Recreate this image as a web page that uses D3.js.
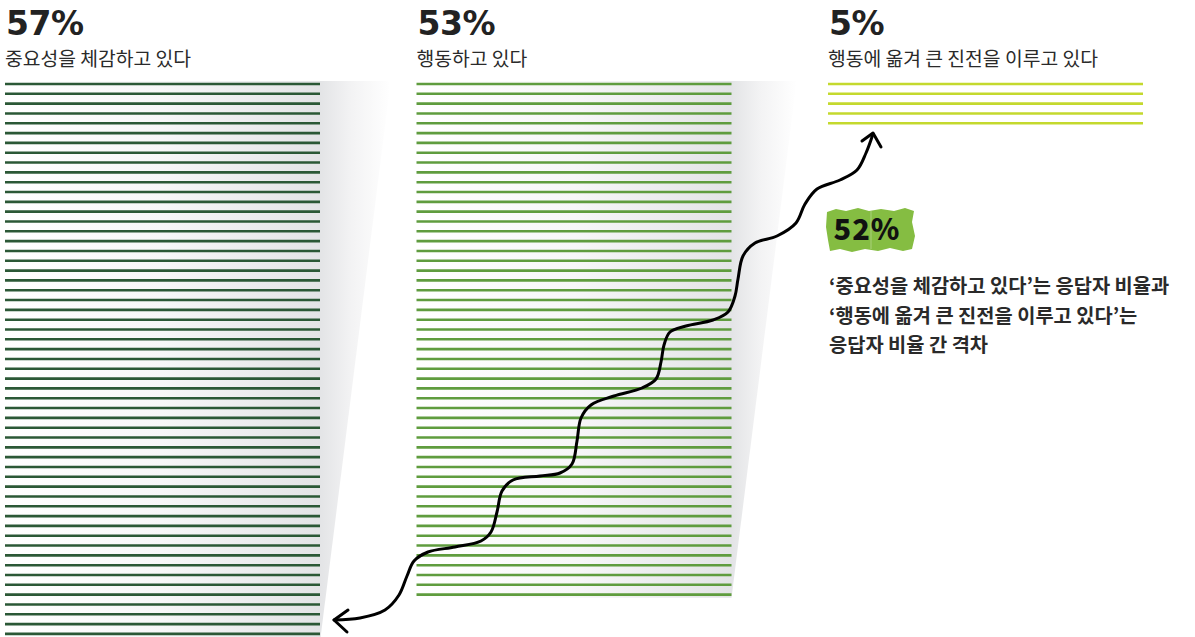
<!DOCTYPE html>
<html>
<head>
<meta charset="utf-8">
<script src="https://cdn.jsdelivr.net/npm/d3@7"></script>
<style>
  html, body { margin: 0; padding: 0; background: #fff; }
  svg { display: block; }
</style>
</head>
<body>
<svg id="chart" width="1195" height="637"></svg>
<script>
// ---- data ----
const categories = ["중요성을 체감하고 있다", "행동하고 있다", "행동에 옮겨 큰 진전을 이루고 있다"];
const percentValues = [57, 53, 5];
const seriesColors = ["#2b5836", "#5f9c3e", "#c4d92e"];
const noteLines = [
  "‘중요성을 체감하고 있다’는 응답자 비율과",
  "‘행동에 옮겨 큰 진전을 이루고 있다’는",
  "응답자 비율 간 격차"
];
// hand-drawn arrow path (annotation decoration)
const arrowPath = [
  [334,620],[360,618],[385,610],[399,595],[407,576],[414,561],[428,552],[455,547],[481,541],
  [491,532],[497,512],[502,491],[513,480],[540,476],[560,473],[572,464],[577,441],[581,418],
  [591,405],[614,396],[642,388],[656,379],[661,362],[664,345],[670,332],[686,326],[713,320],
  [728,312],[735,296],[738,279],[743,256],[755,243],[777,236],[796,223],[805,204],[817,189],
  [840,180],[857,170],[866,153],[873,134]
];

const svg = d3.select("#chart");
const W = 1195, H = 637;
const FONT = "'Noto Sans CJK KR', 'Noto Sans', sans-serif";
const NUMFONT = "'DejaVu Sans', sans-serif";

const x = d3.scaleBand().domain(categories).range([5, 1143]).paddingInner(0.2345).paddingOuter(0);
const lineStep = 9.82;
const y = d3.scaleLinear().domain([0, 57]).range([84, 84 + 57 * lineStep]);

const defs = svg.append("defs");

// shadow panels (first two groups)
categories.forEach((c, gi) => {
  if (gi > 1) return;
  const x0 = x(c), x1 = x(c) + x.bandwidth();
  const n = percentValues[gi];
  const top = y(0) - 3;
  const bottom = gi === 0 ? H + 5 : y(n - 1) + 3;
  const slope = 0.126;
  const topRight = x1 + slope * (bottom - top);
  const id = "shade" + gi;
  const g = defs.append("linearGradient").attr("id", id)
    .attr("gradientUnits", "userSpaceOnUse")
    .attr("x1", x0).attr("x2", topRight).attr("y1", 0).attr("y2", 0);
  const endFrac = (x1 - x0) / (topRight - x0);
  g.append("stop").attr("offset", 0).attr("stop-color", "#ffffff");
  g.append("stop").attr("offset", endFrac * 0.5).attr("stop-color", "#f7f7f8");
  g.append("stop").attr("offset", endFrac).attr("stop-color", "#e3e4e6");
  g.append("stop").attr("offset", endFrac + (1 - endFrac) * 0.45).attr("stop-color", "#f3f3f4");
  g.append("stop").attr("offset", 1).attr("stop-color", "#ffffff");
  svg.append("path")
    .attr("d", `M${x0},${top} L${topRight},${top} L${x1},${bottom} L${x0},${bottom} Z`)
    .attr("fill", `url(#${id})`);
});

// line groups
categories.forEach((c, gi) => {
  const g = svg.append("g");
  const n = percentValues[gi];
  g.selectAll("line").data(d3.range(n)).join("line")
    .attr("x1", x(c)).attr("x2", x(c) + x.bandwidth())
    .attr("y1", d => y(d)).attr("y2", d => y(d))
    .attr("stroke", seriesColors[gi])
    .attr("stroke-width", 2.6);

  svg.append("text")
    .attr("x", x(c) + 1).attr("y", 35)
    .attr("font-family", NUMFONT).attr("font-weight", 700)
    .attr("font-size", 33).attr("fill", "#222")
    .attr("letter-spacing", -0.5)
    .text(n + "%");
  svg.append("text")
    .attr("x", x(c)).attr("y", 66)
    .attr("font-family", FONT).attr("font-weight", 400)
    .attr("font-size", 19.3).attr("fill", "#2a2a2a")
    .text(c);
});

// arrow
const arrowLine = d3.line().curve(d3.curveCatmullRom.alpha(0.5));
svg.append("path").attr("d", arrowLine(arrowPath))
  .attr("fill", "none").attr("stroke", "#000").attr("stroke-width", 3)
  .attr("stroke-linecap", "round");
svg.append("path").attr("d", "M348,610 L334,620 L347,632")
  .attr("fill", "none").attr("stroke", "#000").attr("stroke-width", 3)
  .attr("stroke-linecap", "round").attr("stroke-linejoin", "round");
svg.append("path").attr("d", "M862,141 L873,133 L881,147")
  .attr("fill", "none").attr("stroke", "#000").attr("stroke-width", 3)
  .attr("stroke-linecap", "round").attr("stroke-linejoin", "round");

// badge
svg.append("path")
  .attr("d", "M827,212 L836,209 L846,211 L858,208 L869,211 L881,209 L894,211 L905,208 L914,211 L912,222 L915,236 L912,249 L903,251 L890,248 L878,251 L865,249 L852,252 L840,249 L830,251 L828,240 L826,227 Z")
  .attr("fill", "#85bd42");
svg.append("line").attr("x1", 871).attr("x2", 871).attr("y1", 211).attr("y2", 249)
  .attr("stroke", "#a9d07a").attr("stroke-width", 1);
svg.append("text")
  .attr("x", 867).attr("y", 240)
  .attr("text-anchor", "middle")
  .attr("font-family", FONT).attr("font-weight", 900)
  .attr("font-size", 29).attr("fill", "#111")
  .attr("letter-spacing", 1)
  .text((percentValues[0] - percentValues[2]) + "%");

// note
svg.append("g").selectAll("text").data(noteLines).join("text")
  .attr("x", 829).attr("y", (d, i) => 293 + i * 29.5)
  .attr("font-family", FONT).attr("font-weight", 700)
  .attr("font-size", 19.8).attr("fill", "#2a2a2a")
  .text(d => d);
</script>
</body>
</html>
